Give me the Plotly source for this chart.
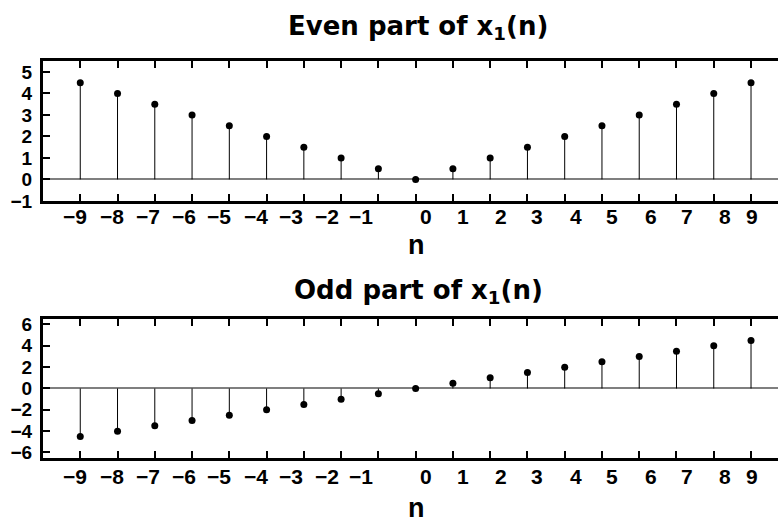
import plotly.graph_objects as go

# ---- data -------------------------------------------------------------
n = list(range(-9, 10))
even_part = [4.5, 4.0, 3.5, 3.0, 2.5, 2.0, 1.5, 1.0, 0.5, 0.0,
             0.5, 1.0, 1.5, 2.0, 2.5, 3.0, 3.5, 4.0, 4.5]
odd_part = [-4.5, -4.0, -3.5, -3.0, -2.5, -2.0, -1.5, -1.0, -0.5, 0.0,
            0.5, 1.0, 1.5, 2.0, 2.5, 3.0, 3.5, 4.0, 4.5]
x_tick_labels = ["\u22129", "\u22128", "\u22127", "\u22126", "\u22125",
                 "\u22124", "\u22123", "\u22122", "\u22121", "0",
                 "1", "2", "3", "4", "5", "6", "7", "8", "9"]
even_yticks = [-1, 0, 1, 2, 3, 4, 5]
odd_yticks = [-6, -4, -2, 0, 2, 4, 6]

# ---- layout constants -------------------------------------------------
W, H = 778, 527
LEFT = 43
X_RANGE = [-10.0, 9.724]
PX_PER_UNIT = (W - LEFT) / (X_RANGE[1] - X_RANGE[0])
# horizontal nudge (px) of each n label relative to its tick mark
label_nudge_px = [-5, -6, -7, -8, -10, -11, -13, -14, -17, 10,
                  10, 11, 10, 11, 10, 12, 11, 11, 1]
label_pos = [v + d / PX_PER_UNIT for v, d in zip(n, label_nudge_px)]

FONT = "Liberation Sans, Arial, Helvetica, sans-serif"
TITLE_FONT = "DejaVu Sans, Verdana, sans-serif"


def ydom(top_px, bottom_px):
    return [1 - bottom_px / H, 1 - top_px / H]


def stem_xy(xs, ys):
    sx, sy = [], []
    for xv, yv in zip(xs, ys):
        sx += [xv, xv, None]
        sy += [0, yv, None]
    return sx, sy


fig = go.Figure()

for vals, xa, ya in [(even_part, "x", "y"), (odd_part, "x2", "y2")]:
    sx, sy = stem_xy(n, vals)
    fig.add_trace(go.Scatter(x=sx, y=sy, mode="lines", xaxis=xa, yaxis=ya,
                             line=dict(color="black", width=1),
                             hoverinfo="skip", showlegend=False))
    fig.add_trace(go.Scatter(x=n, y=vals, mode="markers", xaxis=xa, yaxis=ya,
                             marker=dict(color="black", size=7),
                             showlegend=False))

frame_x = dict(range=X_RANGE, showgrid=False, zeroline=False,
               showline=True, linecolor="black", linewidth=3, mirror="ticks",
               ticks="inside", ticklen=7, tickwidth=2, tickcolor="black",
               tickmode="array", tickvals=n, showticklabels=False)

frame_y = dict(showgrid=False, zeroline=True, zerolinecolor="#7f7f7f",
               zerolinewidth=1.5, showline=True, linecolor="black",
               linewidth=3, mirror=False, ticks="inside", ticklen=7,
               tickwidth=2, tickcolor="black", tickmode="array",
               tickfont=dict(family=FONT, size=19, color="black",
                             weight="bold"),
               ticklabelstandoff=4)

fig.update_layout(
    width=W, height=H,
    margin=dict(l=LEFT, r=0, t=0, b=0),
    paper_bgcolor="white", plot_bgcolor="white",
    xaxis=dict(frame_x, anchor="y"),
    yaxis=dict(frame_y, anchor="x", domain=ydom(58, 202), range=[-1, 5.5],
               tickvals=even_yticks),
    xaxis2=dict(frame_x, anchor="y2"),
    yaxis2=dict(frame_y, anchor="x2", domain=ydom(324, 467), range=[-6.5, 6.5],
                tickvals=odd_yticks),
)

# n labels under each frame
tick_font = dict(family=FONT, size=21, color="black", weight="bold")
for xa, ypx in [("x", 218), ("x2", 486.5)]:
    for pos, lab in zip(label_pos, x_tick_labels):
        fig.add_annotation(text=lab, xref=xa, yref="paper", x=pos,
                           y=1 - ypx / H, xanchor="center", yanchor="middle",
                           showarrow=False, font=tick_font)

# panel titles
title_font = dict(family=TITLE_FONT, size=26, color="black", weight="bold")
cx = (418 - LEFT) / (W - LEFT)
for text, ypx in [("Even part of x<sub>1</sub>(n)", 23),
                  ("Odd part of x<sub>1</sub>(n)", 295)]:
    fig.add_annotation(text=text, xref="paper", yref="paper", x=cx,
                       y=1 - ypx / H, xanchor="center", yanchor="middle",
                       showarrow=False, font=title_font)

# axis titles
axis_font = dict(family=FONT, size=27, color="black", weight="bold")
for ypx in [248, 519]:
    fig.add_annotation(text="n", xref="paper", yref="paper",
                       x=(416 - LEFT) / (W - LEFT), y=1 - ypx / H,
                       xanchor="center", yanchor="middle",
                       showarrow=False, font=axis_font)

fig.write_html("out.html")
